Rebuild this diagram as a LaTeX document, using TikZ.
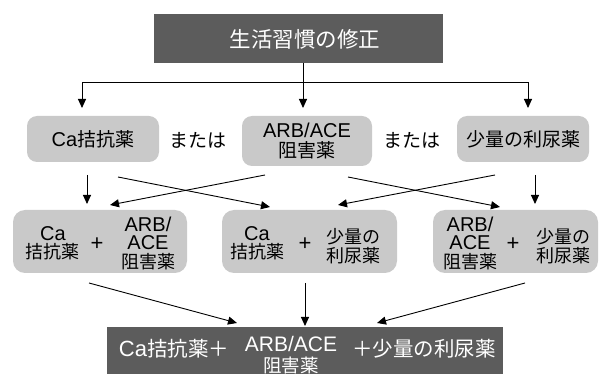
\documentclass[tikz,border=0pt]{standalone}
\usepackage{fontspec}
\setmainfont{Noto Sans CJK JP}
\newfontfamily\lat{Liberation Sans}
\usetikzlibrary{arrows.meta}
\definecolor{boxdark}{RGB}{92,92,92}
\definecolor{boxlight}{RGB}{201,201,201}
\begin{document}
\begin{tikzpicture}[x=1pt,y=-1pt,
  darkbox/.style={fill=boxdark, inner sep=0pt, outer sep=0pt},
  lightbox/.style={fill=boxlight, rounded corners=10pt, inner sep=0pt, outer sep=0pt},
  lbl/.style={align=center, inner sep=0pt, font=\fontsize{19}{19.5}\selectfont},
  lbl3/.style={align=center, inner sep=0pt, font=\fontsize{18}{18.5}\selectfont},
  wlbl/.style={align=center, inner sep=0pt, text=white},
  plus/.style={inner sep=0pt, font=\lat\fontsize{22}{22}\selectfont},
  ln/.style={line width=0.9pt},
  arr/.style={line width=0.9pt, -{Triangle[length=9pt,width=8pt]}}]

\useasboundingbox[fill=white] (0,0) rectangle (606,374);

% top box
\node[darkbox, minimum width=289pt, minimum height=49pt] (top) at (298.5,38.5) {};
\node[wlbl, font=\fontsize{21.5}{23}\selectfont] (toptxt) at (305,39) {生活習慣の修正};

% row 2
\node[lightbox, lbl, minimum width=132pt, minimum height=46pt] (ca) at (93,139) {{\lat\fontsize{20}{19.5}\selectfont Ca}拮抗薬};
\node[lightbox, lbl, minimum width=130pt, minimum height=50pt] (arb) at (307,141) {{\lat\fontsize{20}{19.5}\selectfont ARB/ACE}\\阻害薬};
\node[lightbox, lbl, minimum width=132pt, minimum height=46pt] (ryo) at (523,139) {少量の利尿薬};
\node[lbl] (or1) at (198,140) {または};
\node[lbl] (or2) at (412,140) {または};

% row 3
\node[lightbox, rounded corners=12pt, minimum width=174pt, minimum height=63pt] (l3) at (100,241.5) {};
\node[lightbox, rounded corners=12pt, minimum width=175pt, minimum height=63pt] (m3) at (309.5,241.5) {};
\node[lightbox, rounded corners=12pt, minimum width=165pt, minimum height=63pt] (r3) at (515.5,241.5) {};

\node[lbl3] (l3a) at (53,243) {{\lat\fontsize{20}{18.5}\selectfont Ca}\\拮抗薬};
\node[plus] (l3p) at (97,244) {+};
\node[lbl3] (l3b) at (148,243) {{\lat\fontsize{20}{18.5}\selectfont ARB/}\\{\lat\fontsize{20}{18.5}\selectfont ACE}\\阻害薬};

\node[lbl3] (m3a) at (257,243) {{\lat\fontsize{20}{18.5}\selectfont Ca}\\拮抗薬};
\node[plus] (m3p) at (305,244) {+};
\node[lbl3] (m3b) at (353,246) {少量の\\利尿薬};

\node[lbl3] (r3a) at (470,243) {{\lat\fontsize{20}{18.5}\selectfont ARB/}\\{\lat\fontsize{20}{18.5}\selectfont ACE}\\阻害薬};
\node[plus] (r3p) at (513,244) {+};
\node[lbl3] (r3b) at (563,246) {少量の\\利尿薬};

% bottom box
\node[darkbox, minimum width=396pt, minimum height=47pt] (bot) at (305,350.5) {};
\node[wlbl, font=\fontsize{20.5}{20}\selectfont] (bota) at (174,349) {{\lat\fontsize{22}{20}\selectfont Ca}拮抗薬＋};
\node[wlbl, font=\fontsize{18.5}{20.5}\selectfont] (botb) at (291,355) {{\lat\fontsize{21}{20.5}\selectfont ARB/ACE}\\阻害薬};
\node[wlbl, font=\fontsize{20.5}{20}\selectfont] (botc) at (424,349) {＋少量の利尿薬};

% top -> row 2
\draw[arr] ([xshift=4.5pt]top.south) -- ++(0,19) -| ([xshift=-11pt,yshift=8pt]ca.north);
\draw[arr] ([xshift=4.5pt]top.south) -- ++(0,19) -| ([xshift=5pt,yshift=8pt]ryo.north);
\draw[arr] ([xshift=4.5pt]top.south) -- ([xshift=-4pt,yshift=8pt]arb.north);

% row 2 -> row 3
\draw[arr] ([xshift=-6pt,yshift=-13pt]ca.south) -- ([xshift=-13pt,yshift=6pt]l3.north);
\draw[arr] ([xshift=25pt,yshift=-15pt]ca.south) -- ([xshift=-39.5pt,yshift=3pt]m3.north);
\draw[arr] ([xshift=-42pt,yshift=-9pt]arb.south) -- ([xshift=10pt,yshift=5pt]l3.north);
\draw[arr] ([xshift=41pt,yshift=-11pt]arb.south) -- ([xshift=-15.5pt,yshift=3pt]r3.north);
\draw[arr] ([xshift=-28pt,yshift=-13pt]ryo.south) -- ([xshift=28.5pt,yshift=5pt]m3.north);
\draw[arr] ([xshift=12pt,yshift=-13pt]ryo.south) -- ([xshift=19.5pt,yshift=6pt]r3.north);

% row 3 -> bottom
\draw[arr] ([xshift=-11pt,yshift=-10pt]l3.south) -- ([xshift=-68pt,yshift=4pt]bot.north);
\draw[arr] ([xshift=-4.5pt,yshift=-10pt]m3.south) -- ([yshift=1pt]bot.north);
\draw[arr] ([xshift=9.5pt,yshift=-10pt]r3.south) -- ([xshift=72pt,yshift=4pt]bot.north);
\end{tikzpicture}
\end{document}
